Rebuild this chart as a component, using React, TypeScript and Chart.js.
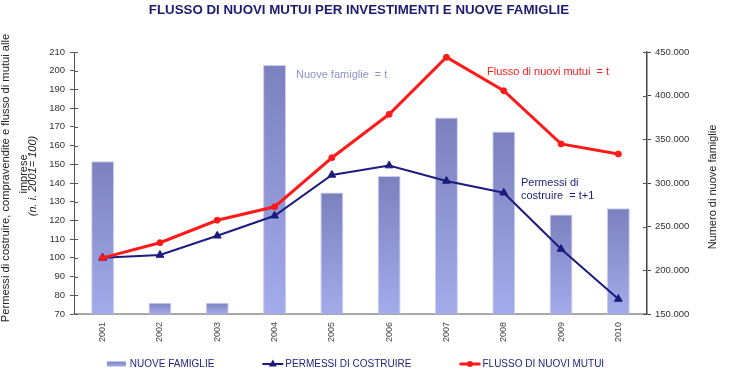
import React, { useEffect, useRef } from "react";
import { Chart, registerables } from "chart.js";

Chart.register(...registerables);

const YEARS = ["2001", "2002", "2003", "2004", "2005", "2006", "2007", "2008", "2009", "2010"];
const NUOVE_FAMIGLIE = [325000, 163000, 163000, 435000, 289000, 308000, 375000, 359000, 264000, 271000];
const PERMESSI = [100, 101.5, 111.8, 122.5, 144.3, 149.3, 141.1, 134.8, 104.7, 78];
const FLUSSO = [100, 108.1, 120.1, 127.3, 153.5, 176.7, 207.2, 189.3, 160.9, 155.5];

const LEFT_MIN = 70;
const LEFT_MAX = 210;
const LEFT_STEP = 10;
const RIGHT_MIN = 150000;
const RIGHT_MAX = 450000;
const RIGHT_STEP = 50000;

const TITLE = "FLUSSO DI NUOVI MUTUI PER INVESTIMENTI E NUOVE FAMIGLIE";
const LEFT_TITLE = [
  "Permessi di costruire, compravendite e flusso di mutui alle",
  "imprese",
  "(n. i. 2001= 100)",
];
const RIGHT_TITLE = "Numero di nuove famiglie";
const NOTE_FAMIGLIE = "Nuove famiglie  = t";
const NOTE_FLUSSO = "Flusso di nuovi mutui  = t";
const NOTE_PERMESSI = ["Permessi di", "costruire  = t+1"];

const FONT = '"Liberation Sans", Arial, Helvetica, sans-serif';
const NAVY = "#1c1c7e";
const RED = "#ff1a1a";
const BAR_TOP = "#7b81bf";
const BAR_BOTTOM = "#a4abea";

const fmtIt = (v: number) => String(Math.round(v)).replace(/\B(?=(\d{3})+(?!\d))/g, ".");

const barGradient = (ctx: any) => {
  const chart = ctx.chart;
  const area = chart.chartArea;
  if (!area || ctx.type !== "data") return "#8f96d4";
  const ys = chart.scales.y1;
  const top = ys.getPixelForValue(ctx.raw);
  const bottom = ys.getPixelForValue(RIGHT_MIN);
  const g = chart.ctx.createLinearGradient(0, top, 0, bottom);
  g.addColorStop(0, BAR_TOP);
  g.addColorStop(1, BAR_BOTTOM);
  return g;
};

const drawRotated = (
  ctx: CanvasRenderingContext2D,
  text: string,
  x: number,
  y: number,
  font: string,
  color: string
) => {
  ctx.save();
  ctx.translate(x, y);
  ctx.rotate(-Math.PI / 2);
  ctx.font = font;
  ctx.fillStyle = color;
  ctx.textAlign = "center";
  ctx.textBaseline = "middle";
  ctx.fillText(text, 0, 0);
  ctx.restore();
};

const decorPlugin = {
  id: "decor",
  afterDraw(chart: any) {
    const ctx: CanvasRenderingContext2D = chart.ctx;
    const area = chart.chartArea;
    const ys = chart.scales.y;
    const y1 = chart.scales.y1;

    // inner tick stubs
    ctx.save();
    ctx.lineWidth = 1;
    ctx.strokeStyle = "#555";
    ys.ticks.forEach((t: any) => {
      const p = Math.round(ys.getPixelForValue(t.value)) + 0.5;
      ctx.beginPath();
      ctx.moveTo(area.left, p);
      ctx.lineTo(area.left + 4, p);
      ctx.stroke();
    });
    y1.ticks.forEach((t: any) => {
      const p = Math.round(y1.getPixelForValue(t.value)) + 0.5;
      ctx.beginPath();
      ctx.moveTo(area.right - 4, p);
      ctx.lineTo(area.right, p);
      ctx.stroke();
    });
    ctx.restore();

    // title
    ctx.save();
    ctx.font = `bold 13.3px ${FONT}`;
    ctx.fillStyle = "#1b1b72";
    ctx.textAlign = "center";
    ctx.textBaseline = "middle";
    ctx.fillText(TITLE, 359, 10);
    ctx.restore();

    // axis titles
    const cy = (area.top + area.bottom) / 2;
    drawRotated(ctx, LEFT_TITLE[0], 6, cy - 5, `11.2px ${FONT}`, "#222");
    drawRotated(ctx, LEFT_TITLE[1], 24, cy - 9, `11px ${FONT}`, "#222");
    drawRotated(ctx, LEFT_TITLE[2], 33, cy - 7, `italic 11px ${FONT}`, "#222");
    drawRotated(ctx, RIGHT_TITLE, 713, cy + 4, `11px ${FONT}`, "#222");

    // notes
    ctx.save();
    ctx.textBaseline = "middle";
    ctx.textAlign = "left";
    ctx.font = `11px ${FONT}`;
    ctx.fillStyle = "#8c92cf";
    ctx.fillText(NOTE_FAMIGLIE, 296, 75);
    ctx.fillStyle = RED;
    ctx.fillText(NOTE_FLUSSO, 487, 72);
    ctx.fillStyle = NAVY;
    ctx.fillText(NOTE_PERMESSI[0], 521, 183);
    ctx.fillText(NOTE_PERMESSI[1], 521, 196);
    ctx.restore();

    // legend
    ctx.save();
    ctx.font = `10px ${FONT}`;
    ctx.textBaseline = "middle";
    ctx.textAlign = "left";
    const ly = 364;
    const symW = 21;
    const gap = 2;
    const spacing = 48;
    const items = chart.data.datasets.map((d: any) => ({
      label: d.label,
      type: d.type,
      color: d.borderColor,
      style: d.pointStyle,
      w: symW + gap + ctx.measureText(d.label).width,
    }));
    const total = items.reduce((s: number, it: any) => s + it.w, 0) + spacing * (items.length - 1);
    let x = 355.5 - total / 2;
    items.forEach((it: any) => {
      if (it.type === "bar") {
        const g = ctx.createLinearGradient(0, ly - 3, 0, ly + 3);
        g.addColorStop(0, BAR_TOP);
        g.addColorStop(1, BAR_BOTTOM);
        ctx.fillStyle = g;
        ctx.fillRect(x, ly - 2.5, symW - 2, 5);
      } else {
        ctx.strokeStyle = it.color;
        ctx.fillStyle = it.color;
        ctx.lineWidth = it.style === "circle" ? 3 : 2;
        ctx.beginPath();
        ctx.moveTo(x, ly);
        ctx.lineTo(x + symW, ly);
        ctx.stroke();
        const cx = x + symW / 2;
        ctx.beginPath();
        if (it.style === "circle") {
          ctx.arc(cx, ly, 3, 0, Math.PI * 2);
        } else {
          ctx.moveTo(cx, ly - 4.5);
          ctx.lineTo(cx + 4, ly + 2.5);
          ctx.lineTo(cx - 4, ly + 2.5);
          ctx.closePath();
        }
        ctx.fill();
      }
      ctx.fillStyle = "#23237f";
      ctx.fillText(it.label, x + symW + gap, ly);
      x += it.w + spacing;
    });
    ctx.restore();
  },
};

export default function App() {
  const ref = useRef<HTMLCanvasElement | null>(null);

  useEffect(() => {
    document.body.style.margin = "0";
    const canvas = ref.current;
    if (!canvas) return;
    const chart = new Chart(canvas, {
      type: "bar",
      data: {
        labels: YEARS,
        datasets: [
          {
            type: "bar",
            label: "NUOVE FAMIGLIE",
            data: NUOVE_FAMIGLIE,
            yAxisID: "y1",
            backgroundColor: barGradient,
            borderColor: "rgba(196,200,238,0.9)",
            borderWidth: 1,
            barPercentage: 0.4,
            categoryPercentage: 1,
            order: 3,
          } as any,
          {
            type: "line",
            label: "PERMESSI DI COSTRUIRE",
            data: PERMESSI,
            yAxisID: "y",
            borderColor: NAVY,
            backgroundColor: NAVY,
            borderWidth: 2,
            pointStyle: "triangle",
            pointRadius: 4.5,
            pointBorderWidth: 1,
            tension: 0,
            order: 2,
          },
          {
            type: "line",
            label: "FLUSSO DI NUOVI MUTUI",
            data: FLUSSO,
            yAxisID: "y",
            borderColor: RED,
            backgroundColor: RED,
            borderWidth: 3,
            pointStyle: "circle",
            pointRadius: 3,
            pointBorderWidth: 1,
            tension: 0,
            order: 1,
          },
        ],
      },
      options: {
        responsive: false,
        animation: false,
        layout: { padding: { top: 52, left: 0, right: 0, bottom: 0 } },
        plugins: {
          legend: { display: false },
          tooltip: { enabled: false },
          title: { display: false },
        },
        scales: {
          x: {
            type: "category",
            offset: true,
            grid: { display: true, drawOnChartArea: false, drawTicks: false },
            border: { display: true, color: "#a8a8a8", width: 2 },
            ticks: {
              minRotation: 90,
              maxRotation: 90,
              padding: 8,
              color: "#444",
              font: { size: 9, family: FONT },
            },
            afterFit: (s: any) => {
              s.height = 75;
            },
          },
          y: {
            type: "linear",
            position: "left",
            min: LEFT_MIN,
            max: LEFT_MAX,
            ticks: {
              stepSize: LEFT_STEP,
              padding: 5,
              color: "#333",
              font: { size: 9.5, family: FONT },
            },
            grid: { drawOnChartArea: false, tickLength: 4, color: "#555" },
            border: { display: true, color: "#555", width: 1 },
            afterFit: (s: any) => {
              s.width = 74;
            },
          },
          y1: {
            type: "linear",
            position: "right",
            min: RIGHT_MIN,
            max: RIGHT_MAX,
            ticks: {
              stepSize: RIGHT_STEP,
              padding: 4,
              color: "#333",
              font: { size: 9.5, family: FONT },
              callback: (v: any) => fmtIt(Number(v)),
            },
            grid: { drawOnChartArea: false, tickLength: 4, color: "#444" },
            border: { display: true, color: "#444", width: 1.5 },
            afterFit: (s: any) => {
              s.width = 93;
            },
          },
        },
      } as any,
      plugins: [decorPlugin],
    });
    return () => chart.destroy();
  }, []);

  return (
    <div style={{ position: "absolute", left: 0, top: 0, width: 740, height: 389, background: "#fff" }}>
      <canvas ref={ref} width={740} height={389} style={{ display: "block", width: 740, height: 389 }} />
    </div>
  );
}
